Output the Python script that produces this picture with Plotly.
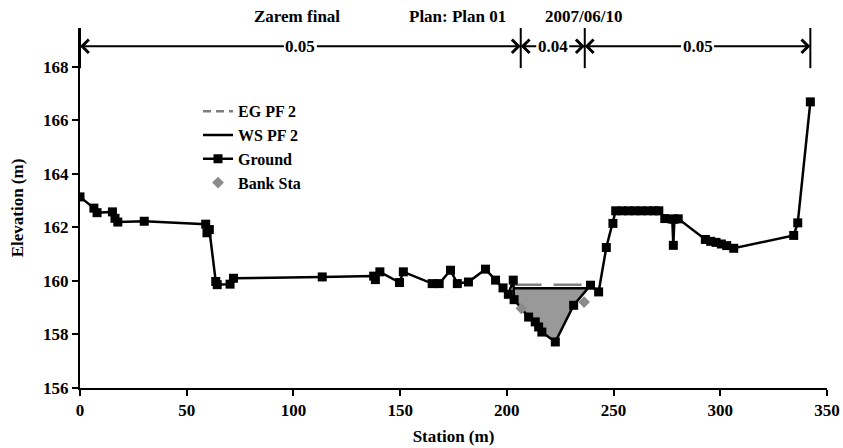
import numpy as np
import plotly.graph_objects as go

# ---- data ----
ground_sta = [0.0, 6.5, 8.0, 15.2, 16.4, 17.7, 30.1, 58.9, 59.5, 60.6, 63.6, 64.3,
              70.3, 71.9, 113.5, 137.6, 138.4, 140.5, 149.7, 151.5, 165.0, 168.3,
              173.6, 176.8, 182.0, 190.0, 194.7, 198.2, 200.7, 203.0, 203.4, 210.2,
              213.3, 214.9, 216.4, 222.7, 231.3, 239.2, 243.0, 246.6, 249.7, 251.0,
              254.0, 257.0, 260.0, 263.0, 266.0, 269.0, 271.2, 274.0, 277.5, 278.0,
              278.5, 280.3, 293.0, 295.5, 298.0, 300.5, 303.0, 306.3, 334.4, 336.3,
              342.2]
ground_elev = [163.14, 162.72, 162.55, 162.58, 162.34, 162.20, 162.23, 162.12, 161.80,
               161.92, 159.98, 159.86, 159.88, 160.10, 160.15, 160.18, 160.05, 160.34,
               159.94, 160.34, 159.90, 159.90, 160.40, 159.90, 159.96, 160.44, 160.03,
               159.74, 159.50, 160.03, 159.30, 158.65, 158.47, 158.28, 158.09, 157.72,
               159.09, 159.84, 159.59, 161.25, 162.15, 162.62, 162.62, 162.62, 162.62,
               162.62, 162.62, 162.62, 162.62, 162.33, 162.31, 161.33, 162.31, 162.32,
               161.55, 161.48, 161.44, 161.38, 161.32, 161.22, 161.70, 162.17, 166.69]

bank_sta = [206.8, 236.2]
bank_elev = [158.97, 159.21]

ws_elev = 159.73          # WS PF 2
eg_elev = 159.86          # EG PF 2
ws_limits = [203.16, 238.04]

n_sta = [0.0, 206.5, 236.5, 342.2]
n_vals = ["0.05", "0.04", "0.05"]

header_texts = ["Zarem final", "Plan: Plan 01", "2007/06/10"]
header_x = [101.7, 176.7, 235.8]

x_ticks = [0, 50, 100, 150, 200, 250, 300, 350]
y_ticks = [156, 158, 160, 162, 164, 166, 168]

# ---- build ----
FONT = "Liberation Serif"
FS = 17
TXT = dict(family=FONT, size=FS, color="black", weight="bold")
gs = np.array(ground_sta)
ge = np.array(ground_elev)
inside = (gs > ws_limits[0]) & (gs < ws_limits[1])
water_x = [ws_limits[0]] + list(gs[inside]) + [ws_limits[1]]
water_y = [ws_elev] + list(ge[inside]) + [ws_elev]

fig = go.Figure()
fig.add_trace(go.Scatter(x=water_x, y=water_y, fill="toself", fillcolor="#999999",
                         mode="lines", line=dict(width=0), showlegend=False,
                         hoverinfo="skip"))
fig.add_trace(go.Scatter(x=ws_limits, y=[eg_elev, eg_elev], mode="lines",
                         name="EG PF 2", showlegend=False,
                         line=dict(color="#7f7f7f", width=2.5, dash="28px,12px")))
# legend entry for EG (short dashes as in the reference legend)
fig.add_trace(go.Scatter(x=[None], y=[None], mode="lines", name="EG PF 2",
                         line=dict(color="#7f7f7f", width=2.5, dash="8px,5px")))
fig.add_trace(go.Scatter(x=ws_limits, y=[ws_elev, ws_elev], mode="lines",
                         name="WS PF 2", line=dict(color="black", width=2.5)))
fig.add_trace(go.Scatter(x=ground_sta, y=ground_elev, mode="lines+markers",
                         name="Ground", line=dict(color="black", width=2.5),
                         marker=dict(symbol="square", size=9, color="black")))
fig.add_trace(go.Scatter(x=bank_sta, y=bank_elev, mode="markers", name="Bank Sta",
                         marker=dict(symbol="diamond", size=9, color="#8a8a8a")))

annotations = []
for t, xx in zip(header_texts, header_x):
    annotations.append(dict(x=xx, y=1.033, xref="x", yref="paper", text=t,
                            yanchor="middle", showarrow=False, font=TXT))

arrow_y = 168.77
shapes = []
for s in n_sta:
    shapes.append(dict(type="line", xref="x", yref="y", x0=s, x1=s, y0=167.95, y1=169.45,
                       line=dict(color="black", width=2)))
for i, lab in enumerate(n_vals):
    a, b = n_sta[i], n_sta[i + 1]
    mid = (a + b) / 2
    annotations.append(dict(x=a, y=arrow_y, xref="x", yref="y", ax=mid, ay=arrow_y,
                            axref="x", ayref="y", text=lab, showarrow=True,
                            arrowhead=4, arrowsize=1.3, arrowwidth=2, arrowcolor="black",
                            bgcolor="white", borderpad=1, font=TXT))
    annotations.append(dict(x=b, y=arrow_y, xref="x", yref="y", ax=mid, ay=arrow_y,
                            axref="x", ayref="y", text=lab, showarrow=True,
                            arrowhead=4, arrowsize=1.3, arrowwidth=2, arrowcolor="black",
                            bgcolor="rgba(0,0,0,0)", borderpad=1,
                            font=dict(family=FONT, size=FS, weight="bold",
                                      color="rgba(0,0,0,0)")))

LEG = dict(family=FONT, size=16, color="black", weight="bold")

fig.update_layout(
    width=843, height=448,
    margin=dict(l=80, r=16, t=28, b=60, autoexpand=False),
    paper_bgcolor="white", plot_bgcolor="white",
    font=TXT,
    showlegend=True,
    legend=dict(x=0.158, y=0.816, xanchor="left", yanchor="top",
                bgcolor="rgba(0,0,0,0)", font=LEG,
                tracegroupgap=0, itemwidth=30),
    annotations=annotations, shapes=shapes,
    xaxis=dict(range=[0, 350], tickvals=x_ticks, showline=True, linecolor="black",
               linewidth=2, ticks="outside", ticklen=6, tickwidth=2, tickcolor="black",
               showgrid=False, zeroline=False, automargin=False,
               title=dict(text="Station (m)", standoff=11, font=TXT),
               tickfont=TXT),
    yaxis=dict(range=[156, 169.45], tickvals=y_ticks, showline=True, linecolor="black",
               linewidth=2, ticks="outside", ticklen=6, tickwidth=2, tickcolor="black",
               showgrid=False, zeroline=False, automargin=False,
               title=dict(text="Elevation (m)", standoff=15, font=TXT),
               tickfont=TXT),
)

fig.write_html("out.html", config={"displayModeBar": False},
               post_script="document.body.style.margin='0px';document.body.style.padding='0px';")
